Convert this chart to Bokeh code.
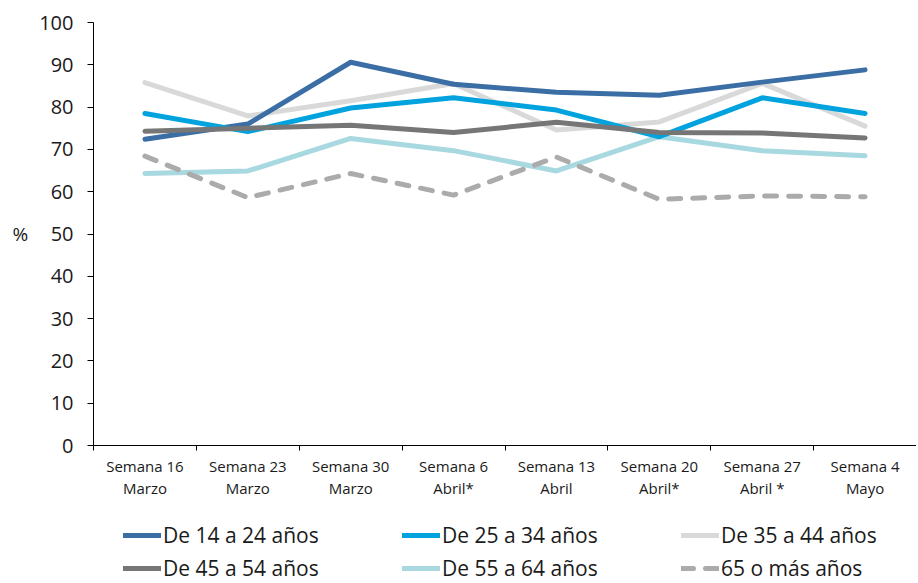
from bokeh.plotting import figure
from bokeh.models import Range1d, FixedTicker, Legend, LegendItem
from bokeh.layouts import column
from bokeh.embed import file_html
from bokeh.resources import INLINE

categories = ["Semana 16\nMarzo", "Semana 23\nMarzo", "Semana 30\nMarzo", "Semana 6\nAbril*",
              "Semana 13\nAbril", "Semana 20\nAbril*", "Semana 27\nAbril *", "Semana 4\nMayo"]
s_14_24 = [72.4, 76.0, 90.6, 85.4, 83.5, 82.8, 85.9, 88.8]
s_25_34 = [78.5, 74.2, 79.8, 82.2, 79.3, 73.0, 82.2, 78.5]
s_35_44 = [85.8, 77.9, 81.5, 85.6, 74.6, 76.5, 85.6, 75.5]
s_45_54 = [74.3, 75.0, 75.7, 74.0, 76.4, 74.0, 73.9, 72.7]
s_55_64 = [64.3, 64.9, 72.6, 69.7, 64.9, 73.0, 69.7, 68.5]
s_65 = [68.4, 58.6, 64.3, 59.2, 68.2, 58.2, 59.0, 58.8]
series_names = ["De 14 a 24 años", "De 25 a 34 años", "De 35 a 44 años",
                "De 45 a 54 años", "De 55 a 64 años", "65 o más años"]
y_ticks = [0, 10, 20, 30, 40, 50, 60, 70, 80, 90, 100]

FONT = "Open Sans"
TXT = "#1a1a1a"

p = figure(width=916, height=505, output_backend="svg", toolbar_location=None,
           x_range=Range1d(0, len(categories)), y_range=Range1d(0, 100),
           min_border_left=93, min_border_right=0, min_border_top=22, min_border_bottom=60)
p.outline_line_color = None
p.grid.visible = False

xs = [i + 0.5 for i in range(len(categories))]

# axes
p.xaxis.ticker = FixedTicker(ticks=xs, minor_ticks=list(range(len(categories) + 1)))
p.xaxis.major_label_overrides = {x: c for x, c in zip(xs, categories)}
p.xaxis.major_tick_out = 0
p.xaxis.major_tick_in = 0
p.xaxis.minor_tick_out = 5
p.xaxis.minor_tick_in = 0
p.xaxis.minor_tick_line_color = "black"
p.xaxis.axis_line_color = "black"
p.xaxis.major_label_text_font = FONT
p.xaxis.major_label_text_font_size = "15px"
p.xaxis.major_label_text_color = TXT
p.xaxis.major_label_text_line_height = 1.1
p.xaxis.major_label_standoff = 5

p.yaxis.ticker = FixedTicker(ticks=y_ticks)
p.yaxis.major_tick_out = 6
p.yaxis.major_tick_in = 0
p.yaxis.minor_tick_out = 0
p.yaxis.major_tick_line_color = "black"
p.yaxis.axis_line_color = "black"
p.yaxis.major_label_text_font = FONT
p.yaxis.major_label_text_font_size = "20px"
p.yaxis.major_label_text_color = TXT
p.yaxis.major_label_standoff = 14
p.yaxis.axis_label = "%"
p.yaxis.axis_label_orientation = "horizontal"
p.yaxis.axis_label_text_font = FONT
p.yaxis.axis_label_text_font_style = "normal"
p.yaxis.axis_label_text_font_size = "19px"
p.yaxis.axis_label_text_color = TXT
p.yaxis.axis_label_standoff = 8

styles = [
    dict(color="#3A6EA5"),
    dict(color="#00A3DE"),
    dict(color="#D9D9D9"),
    dict(color="#767676"),
    dict(color="#A8D8E0"),
    dict(color="#ABABAB", dash="12 12"),
]
data = [s_14_24, s_25_34, s_35_44, s_45_54, s_55_64, s_65]
order = [2, 4, 0, 1, 3, 5]  # drawing order (light lines below)
for k in order:
    st = styles[k]
    p.line(xs, data[k], line_color=st["color"], line_width=5,
           line_dash=st.get("dash", "solid"), line_cap="round", line_join="round")

# legend strip below the chart (its lines lie outside its own view; only the legend shows)
lg = figure(width=916, height=78, output_backend="svg", toolbar_location=None,
            x_range=Range1d(-20, -10), y_range=Range1d(-20, -10),
            x_axis_location=None, y_axis_location=None,
            min_border_left=0, min_border_right=0, min_border_top=0, min_border_bottom=0)
lg.outline_line_color = None
lg.grid.visible = False
items = []
for k in range(6):
    st = styles[k]
    r = lg.line(xs, data[k], line_color=st["color"], line_width=5,
                line_dash=st.get("dash", "solid"), line_cap="round")
    items.append(LegendItem(label=series_names[k], renderers=[r]))
legend = Legend(items=items, ncols=3, orientation="horizontal", location=(30, 1),
                label_text_font=FONT, label_text_font_size="21px", label_text_color=TXT,
                glyph_width=38, glyph_height=20, label_standoff=2,
                label_width=234, label_height=24, spacing=5, padding=0, margin=0,
                border_line_alpha=0, background_fill_alpha=0)
lg.add_layout(legend, "center")

layout = column(p, lg, spacing=0)
open("out.html", "w").write(file_html(layout, INLINE))
